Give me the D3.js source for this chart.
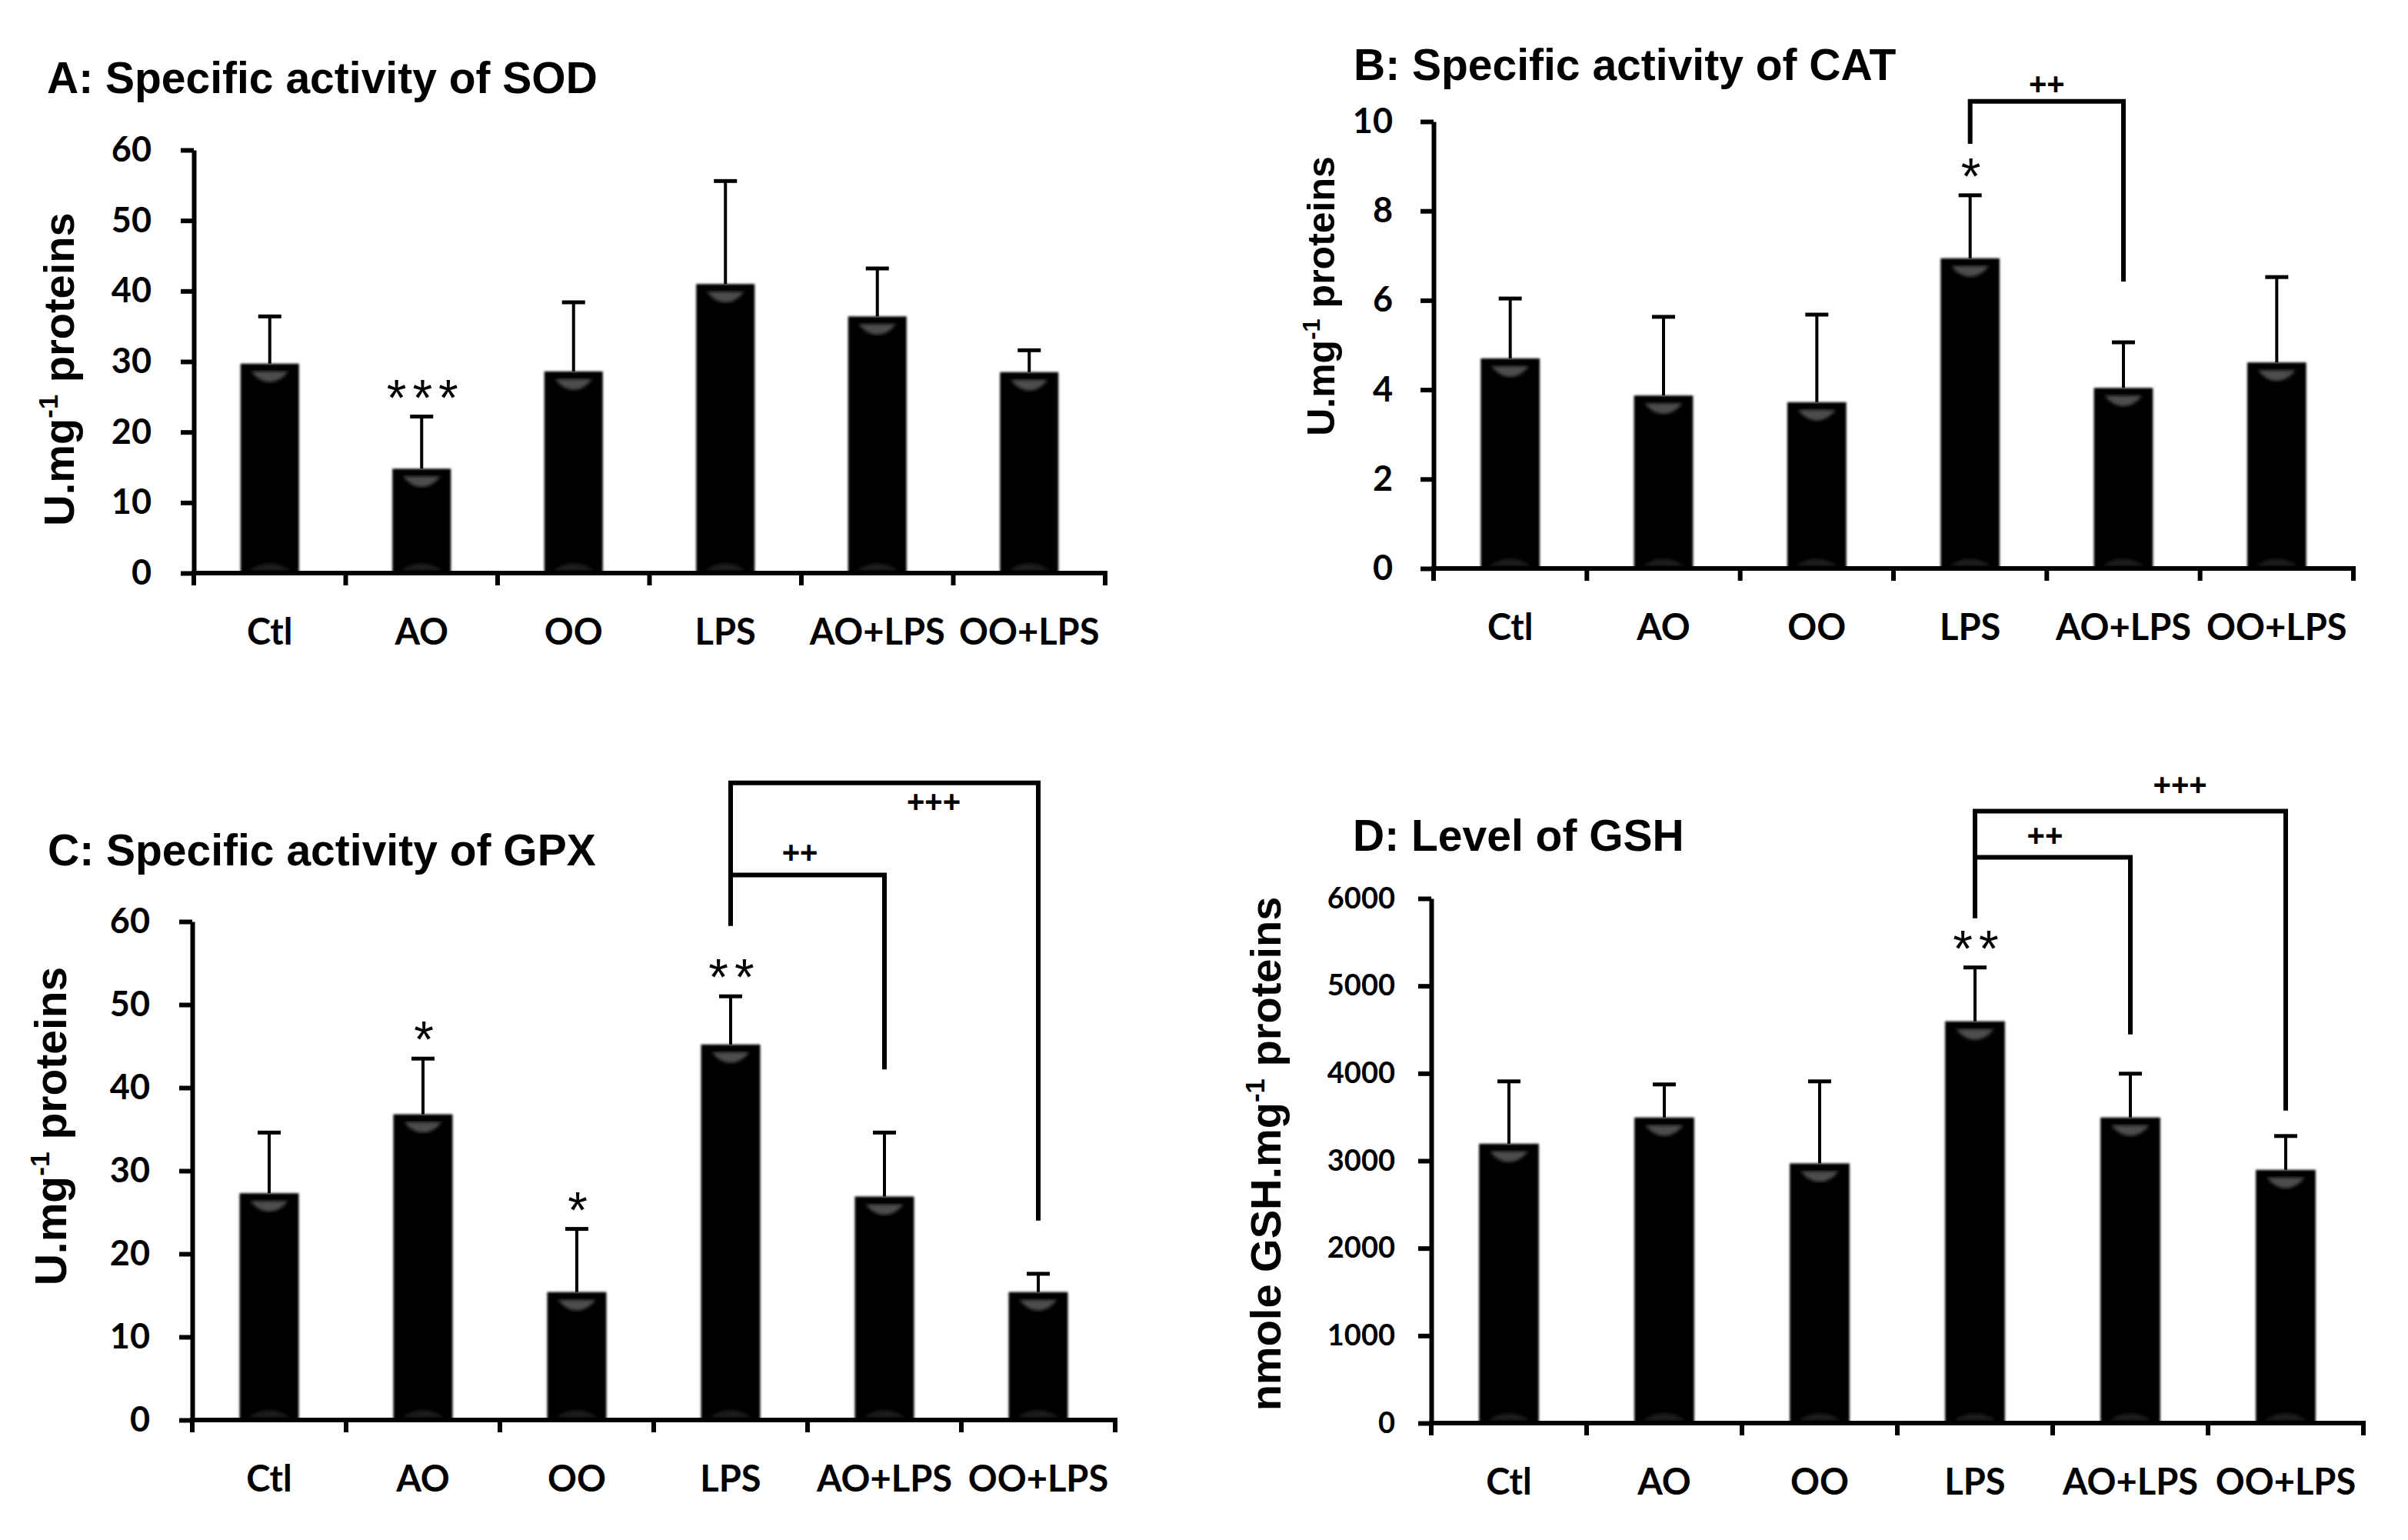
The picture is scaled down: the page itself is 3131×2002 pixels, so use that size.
<!DOCTYPE html>
<html>
<head>
<meta charset="utf-8">
<script src="https://cdn.jsdelivr.net/npm/d3@7"></script>
<style>
  html, body { margin: 0; padding: 0; background: #fff; }
  svg { display: block; }
</style>
</head>
<body>
<svg id="fig" width="3131" height="2002"></svg>
<script>
// ── Data ────────────────────────────────────────────────────
const categories = ['Ctl', 'AO', 'OO', 'LPS', 'AO+LPS', 'OO+LPS'];

const sodMean = [29.7, 14.8, 28.6, 41.0, 36.4, 28.5];
const sodSD   = [6.7, 7.4, 9.8, 14.6, 6.8, 3.1];
const sodStars = ['', '***', '', '', '', ''];

const catMean = [4.70, 3.87, 3.72, 6.94, 4.04, 4.61];
const catSD   = [1.34, 1.76, 1.96, 1.41, 1.02, 1.91];
const catStars = ['', '', '', '*', '', ''];

const gpxMean = [27.3, 36.8, 15.4, 45.2, 26.9, 15.4];
const gpxSD   = [7.3, 6.7, 7.6, 5.8, 7.7, 2.2];
const gpxStars = ['', '*', '*', '**', '', ''];

const gshMean = [3195, 3495, 2970, 4595, 3495, 2896];
const gshSD   = [713, 378, 938, 616, 501, 387];
const gshStars = ['', '', '', '**', '', ''];

const sodTicks = [0, 10, 20, 30, 40, 50, 60];
const catTicks = [0, 2, 4, 6, 8, 10];
const gpxTicks = [0, 10, 20, 30, 40, 50, 60];
const gshTicks = [0, 1000, 2000, 3000, 4000, 5000, 6000];

// significance brackets vs LPS (levels in data units)
const catBrackets = [
  { from: 'LPS', to: 'AO+LPS', level: 10.45, leftEnd: 9.5, rightEnd: 6.42, label: '++', labelAt: 10.85, labelT: 0.5 }
];
const gpxBrackets = [
  { from: 'LPS', to: 'AO+LPS', level: 65.6, leftEnd: 59.5, rightEnd: 42.2, label: '++', labelAt: 68.3, labelT: 0.45 },
  { from: 'LPS', to: 'OO+LPS', level: 76.7, leftEnd: 59.5, rightEnd: 24.0, label: '+++', labelAt: 74.4, labelT: 0.66 }
];
const gshBrackets = [
  { from: 'LPS', to: 'AO+LPS', level: 6470, leftEnd: 5775, rightEnd: 4445, label: '++', labelAt: 6725, labelT: 0.45 },
  { from: 'LPS', to: 'OO+LPS', level: 6998, leftEnd: 5775, rightEnd: 3574, label: '+++', labelAt: 7306, labelT: 0.66 }
];

// ── Panel layout ────────────────────────────────────────────
const panels = [
  { title: 'A: Specific activity of SOD', tx: 61, ty: 121,
    ylab: ['U.mg', '-1', ' proteins'], lx: 96, ly: 480, lsize: 56,
    x0: 252, x1: 1437, y0: 745, y1: 195, max: 60, ticks: sodTicks, tickFont: 45, tickPad: 38,
    mean: sodMean, sd: sodSD, stars: sodStars, brackets: [] },
  { title: 'B: Specific activity of CAT', tx: 1760, ty: 104,
    ylab: ['U.mg', '-1', ' proteins'], lx: 1735, ly: 385, lsize: 50,
    x0: 1864, x1: 3060, y0: 739, y1: 158, max: 10, ticks: catTicks, tickFont: 45, tickPad: 36,
    mean: catMean, sd: catSD, stars: catStars, brackets: catBrackets },
  { title: 'C: Specific activity of GPX', tx: 62, ty: 1125,
    ylab: ['U.mg', '-1', ' proteins'], lx: 86, ly: 1464, lsize: 57,
    x0: 250, x1: 1450, y0: 1846, y1: 1198, max: 60, ticks: gpxTicks, tickFont: 45, tickPad: 38,
    mean: gpxMean, sd: gpxSD, stars: gpxStars, brackets: gpxBrackets },
  { title: 'D: Level of GSH', tx: 1759, ty: 1106,
    ylab: ['nmole GSH.mg', '-1', ' proteins'], lx: 1665, ly: 1500, lsize: 56,
    x0: 1861, x1: 3073, y0: 1850, y1: 1168, max: 6000, ticks: gshTicks, tickFont: 38, tickPad: 30,
    mean: gshMean, sd: gshSD, stars: gshStars, brackets: gshBrackets }
];

const svg = d3.select('#fig');
svg.append('rect').attr('width', 3131).attr('height', 2002).attr('fill', '#fff');

const defs = svg.append('defs');
defs.append('filter').attr('id', 'soft')
  .attr('x', '-10%').attr('y', '-10%').attr('width', '120%').attr('height', '120%')
  .append('feGaussianBlur').attr('stdDeviation', 1.4);
defs.append('filter').attr('id', 'glow')
  .append('feGaussianBlur').attr('stdDeviation', 2);

const SANS = "'Liberation Sans', Arial, sans-serif";
const LABEL = "Lato, 'Open Sans', sans-serif";

panels.forEach(drawPanel);

function drawPanel(p) {
  const g = svg.append('g');

  const x = d3.scaleBand().domain(categories).range([p.x0, p.x1]).padding(0);
  const y = d3.scaleLinear().domain([0, p.max]).range([p.y0, p.y1]);
  const bw = x.bandwidth() * 0.385;

  // title
  g.append('text')
    .attr('x', p.tx).attr('y', p.ty)
    .attr('font-family', SANS).attr('font-weight', 'bold').attr('font-size', 57)
    .text(p.title);

  // y-axis label with superscript
  const yl = g.append('text')
    .attr('transform', `translate(${p.lx},${p.ly}) rotate(-90)`)
    .attr('text-anchor', 'middle')
    .attr('font-family', SANS).attr('font-weight', 'bold').attr('font-size', p.lsize);
  yl.append('tspan').text(p.ylab[0]);
  yl.append('tspan').attr('font-size', p.lsize * 0.62).attr('dy', -p.lsize * 0.38).text(p.ylab[1]);
  yl.append('tspan').attr('dy', p.lsize * 0.38).text(p.ylab[2]);

  // bars
  const bars = g.append('g');
  categories.forEach((c, i) => {
    const cx = x(c) + x.bandwidth() / 2;
    const top = y(p.mean[i]);
    bars.append('rect')
      .attr('x', cx - bw / 2).attr('y', top)
      .attr('width', bw).attr('height', p.y0 - top)
      .attr('fill', '#000').attr('filter', 'url(#soft)');
    // top highlight (bowl shape)
    const hw = bw * 0.32;
    bars.append('path')
      .attr('d', `M${cx - hw},${top + 10} L${cx + hw},${top + 10} Q${cx + hw * 0.55},${top + 24} ${cx},${top + 24} Q${cx - hw * 0.55},${top + 24} ${cx - hw},${top + 10} Z`)
      .attr('fill', '#4d4d4d').attr('filter', 'url(#glow)');
    // faint bottom reflection
    const bh = bw * 0.36;
    bars.append('path')
      .attr('d', `M${cx - bh},${p.y0 - 3} Q${cx - bh * 0.5},${p.y0 - 13} ${cx},${p.y0 - 13} Q${cx + bh * 0.5},${p.y0 - 13} ${cx + bh},${p.y0 - 3} Z`)
      .attr('fill', '#1c1c1c').attr('filter', 'url(#glow)');
  });

  // error bars (upper only)
  categories.forEach((c, i) => {
    const cx = x(c) + x.bandwidth() / 2;
    const yt = y(p.mean[i] + p.sd[i]);
    g.append('line')
      .attr('x1', cx).attr('x2', cx)
      .attr('y1', y(p.mean[i])).attr('y2', yt)
      .attr('stroke', '#000').attr('stroke-width', 4);
    g.append('line')
      .attr('x1', cx - 15).attr('x2', cx + 15)
      .attr('y1', yt).attr('y2', yt)
      .attr('stroke', '#000').attr('stroke-width', 5);
    if (p.stars[i]) {
      g.append('text')
        .attr('x', cx + 5).attr('y', yt - 2)
        .attr('text-anchor', 'middle')
        .attr('font-family', SANS).attr('font-size', 66)
        .attr('letter-spacing', 8)
        .text(p.stars[i]);
    }
  });

  // y axis
  const yAxis = g.append('g')
    .attr('transform', `translate(${p.x0},0)`)
    .call(d3.axisLeft(y).tickValues(p.ticks).tickFormat(d3.format('d'))
      .tickSize(17).tickSizeOuter(0).tickPadding(p.tickPad));
  yAxis.select('.domain').attr('stroke', '#000').attr('stroke-width', 6);
  yAxis.selectAll('.tick line').attr('stroke', '#000').attr('stroke-width', 6);
  yAxis.selectAll('.tick text')
    .attr('font-family', LABEL).attr('font-weight', 'bold')
    .attr('font-size', p.tickFont).attr('fill', '#000');

  // x axis: baseline and boundary ticks
  g.append('line')
    .attr('x1', p.x0 - 3).attr('x2', p.x1 + 3)
    .attr('y1', p.y0).attr('y2', p.y0)
    .attr('stroke', '#000').attr('stroke-width', 6);
  const bounds = categories.map(c => x(c)).concat([x.range()[1]]);
  bounds.forEach(bx => {
    g.append('line')
      .attr('x1', bx).attr('x2', bx)
      .attr('y1', p.y0).attr('y2', p.y0 + 16)
      .attr('stroke', '#000').attr('stroke-width', 6);
  });
  categories.forEach(c => {
    g.append('text')
      .attr('x', x(c) + x.bandwidth() / 2).attr('y', p.y0 + 93)
      .attr('text-anchor', 'middle')
      .attr('font-family', LABEL).attr('font-weight', 'bold').attr('font-size', 47)
      .text(c);
  });

  // significance brackets
  p.brackets.forEach(b => {
    const xa = x(b.from) + x.bandwidth() / 2;
    const xb = x(b.to) + x.bandwidth() / 2;
    g.append('path')
      .attr('d', `M${xa},${y(b.leftEnd)} V${y(b.level)} H${xb} V${y(b.rightEnd)}`)
      .attr('fill', 'none').attr('stroke', '#000').attr('stroke-width', 6);
    g.append('text')
      .attr('x', xa + (xb - xa) * b.labelT).attr('y', y(b.labelAt) + 14)
      .attr('text-anchor', 'middle')
      .attr('font-family', SANS).attr('font-weight', 'bold').attr('font-size', 40)
      .text(b.label);
  });
}
</script>
</body>
</html>
